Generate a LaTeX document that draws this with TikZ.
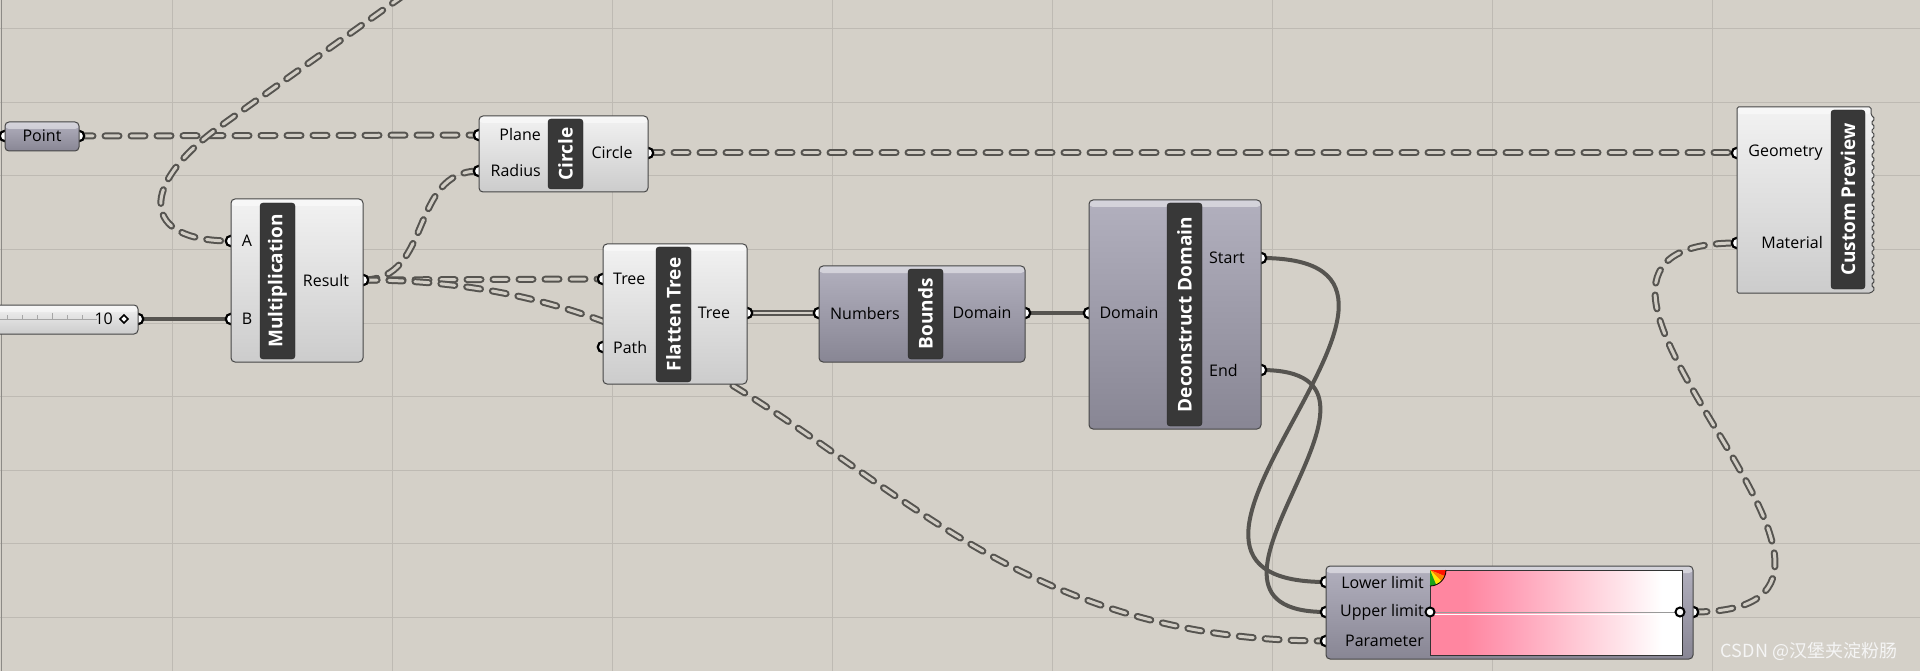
\documentclass[tikz,border=0pt]{standalone}
\usepackage{fontspec}
\setmainfont{Open Sans}
\newfontfamily\cjkfont{Noto Sans CJK SC}

\definecolor{canvas}{RGB}{212,208,200}
\definecolor{gridcol}{RGB}{190,186,179}
\definecolor{edgecol}{RGB}{140,138,134}
\definecolor{wiredk}{RGB}{86,84,80}
\definecolor{wirein}{RGB}{210,206,198}
\definecolor{bodyline}{RGB}{70,70,70}
\definecolor{lighttop}{RGB}{242,242,242}
\definecolor{lightbot}{RGB}{204,204,204}
\definecolor{purptop}{RGB}{178,176,190}
\definecolor{purpbot}{RGB}{136,134,148}
\definecolor{barfill}{RGB}{56,56,56}
\definecolor{pinkA}{RGB}{255,134,160}
\definecolor{pinkB}{RGB}{255,156,180}
\definecolor{pinkC}{RGB}{255,194,208}
\definecolor{pinkD}{RGB}{255,228,234}

\pgfdeclarelayer{canvas}
\pgfdeclarelayer{wires}
\pgfsetlayers{canvas,wires,main}

\pgfdeclarehorizontalshading{pinkfade}{100bp}{color(0bp)=(pinkA); color(25bp)=(pinkA); color(32bp)=(pinkA); color(40bp)=(pinkB); color(52bp)=(pinkC); color(63bp)=(pinkD); color(71bp)=(white); color(100bp)=(white)}

\newcommand{\portfont}{\fontsize{16}{18}\selectfont}
\newcommand{\barfont}{\fontsize{19}{20}\selectfont\bfseries}

\begin{document}
\begin{tikzpicture}[
  x=1pt, y=-1pt,
  gridrule/.style={draw=gridcol, line width=1pt},
  lbody/.style={
    draw=bodyline,
    line width=1pt,
    rounded corners=4pt,
    top color=lighttop,
    bottom color=lightbot,
    inner sep=0pt,
    outer sep=0pt,
    anchor=north west,
    path picture={\fill[white, opacity=.45] (path picture bounding box.north west) rectangle ([yshift=-7pt]path picture bounding box.north east);}
  },
  pbody/.style={lbody, top color=purptop, bottom color=purpbot},
  titlebar/.style={
    draw=black!85,
    fill=barfill,
    rounded corners=3pt,
    rotate=90,
    minimum height=35pt,
    inner sep=0pt,
    text=white,
    font=\barfont
  },
  portlbl/.style={font=\portfont, inner sep=0pt},
  grip/.style={circle, draw=black, fill=white, line width=2.2pt, minimum size=10.5pt, inner sep=0pt},
  listwire/.style={
    draw=wirein, line width=3pt, line cap=round, dash pattern=on 14pt off 12pt,
    preaction={draw=wiredk, line width=7pt, line cap=round, dash pattern=on 14pt off 12pt}
  },
  itemwire/.style={draw=wiredk, line width=4pt},
  treewire/.style={draw=wiredk, line width=1.7pt, double=wirein, double distance=2pt}
]
\useasboundingbox (0,0) rectangle (1920,671);

% canvas and grid
\begin{pgfonlayer}{canvas}
  \fill[canvas] (0,0) rectangle (1920,671);
  \foreach \gx in {172,392,...,1712}
    \draw[gridrule] (\gx,0) -- (\gx,671);
  \foreach \gy in {29,102.5,176,249.5,323,396.5,470,543.5,617}
    \draw[gridrule] (0,\gy) -- (1920,\gy);
  \draw[edgecol, line width=1.5pt] (1.5,0) -- (1.5,671);
\end{pgfonlayer}

% grips
\node[grip] (pt-i) at (5,136) {};
\node[grip] (pt-o) at (79,136) {};
\node[grip] (sld-o) at (138,319) {};
\node[grip] (mult-a) at (231,241) {};
\node[grip] (mult-b) at (231,319) {};
\node[grip] (mult-r) at (363,280) {};
\node[grip] (circ-p) at (479,135) {};
\node[grip] (circ-r) at (479,171) {};
\node[grip] (circ-o) at (648,153) {};
\node[grip] (flat-t) at (603,279) {};
\node[grip] (flat-p) at (603,347) {};
\node[grip] (flat-o) at (747,313) {};
\node[grip] (bnds-i) at (819,313) {};
\node[grip] (bnds-o) at (1025,313) {};
\node[grip] (decon-i) at (1089,313) {};
\node[grip] (decon-s) at (1261,258) {};
\node[grip] (decon-e) at (1261,370) {};
\node[grip] (prev-g) at (1737,153) {};
\node[grip] (prev-m) at (1737,243) {};
\node[grip] (grad-lo) at (1326,582) {};
\node[grip] (grad-up) at (1326,612) {};
\node[grip] (grad-pa) at (1326,641) {};
\node[grip] (grad-o) at (1693,612) {};
\coordinate (mult-src) at (425,-20);

% wires
\begin{pgfonlayer}{wires}
  \clip (0,0) rectangle (1920,671);
  \draw[listwire] (pt-o.center) -- (circ-p.center);
  \draw[listwire] (mult-src) -- (222,125) .. controls (138,185) and (140,241) .. (mult-a.center);
  \draw[itemwire] (sld-o.center) -- (mult-b.center);
  \draw[listwire] (mult-r.center) .. controls +(70,0) and +(-70,0) .. (circ-r.center);
  \draw[listwire] (mult-r.center) -- (flat-t.center);
  \draw[listwire] (mult-r.center) .. controls +(450,0) and +(-450,0) .. (grad-pa.center);
  \draw[listwire] (circ-o.center) -- (prev-g.center);
  \draw[treewire] (flat-o.center) -- (bnds-i.center);
  \draw[itemwire] (bnds-o.center) -- (decon-i.center);
  \draw[itemwire] (decon-s.center) .. controls +(240,0) and +(-240,0) .. (grad-lo.center);
  \draw[itemwire] (decon-e.center) .. controls +(175,0) and +(-175,0) .. (grad-up.center);
  \draw[listwire] (grad-o.center) .. controls +(265,0) and +(-265,0) .. (prev-m.center);
\end{pgfonlayer}

% Point
\node[pbody, minimum width=74pt, minimum height=29pt] (pt) at (5,122) {};
\node[portlbl] (pt-l) at (42,136) {Point};

% slider
\node[lbody, minimum width=146pt, minimum height=29pt] (sld) at (-8,305) {};
\draw[gray!70, line width=.8pt] (0,319) -- (97,319);
\foreach \tx in {7,22,37,67,82}
  \draw[gray!70, line width=.8pt] (\tx,319) -- (\tx,315);
\draw[gray!70, line width=.8pt] (52,319) -- (52,313);
\node[portlbl, anchor=east] (sld-v) at (113,319) {10};
\draw[line width=1.5pt, fill=white] (124,315) -- (128,319) -- (124,323) -- (120,319) -- cycle;

% Multiplication
\node[lbody, minimum width=132pt, minimum height=163pt] (mult) at (231,199) {};
\node[titlebar, minimum width=156pt] (mult-t) at (277.5,281) {Multiplication};
\node[portlbl] (mult-al) at (247,241) {A};
\node[portlbl] (mult-bl) at (247,319) {B};
\node[portlbl] (mult-rl) at (326,280) {Result};

% Circle
\node[lbody, minimum width=169pt, minimum height=76pt] (circ) at (479,116) {};
\node[titlebar, minimum width=70pt] (circ-t) at (565.5,154) {Circle};
\node[portlbl, anchor=east] (circ-pl) at (541,135) {Plane};
\node[portlbl, anchor=east] (circ-rl) at (541,171) {Radius};
\node[portlbl] (circ-ol) at (612,153) {Circle};

% Flatten Tree
\node[lbody, minimum width=144pt, minimum height=140pt] (flat) at (603,244) {};
\node[titlebar, minimum width=135pt] (flat-t) at (673.5,314.5) {Flatten Tree};
\node[portlbl, anchor=west] (flat-tl) at (613,279) {Tree};
\node[portlbl, anchor=west] (flat-pl) at (613,347) {Path};
\node[portlbl] (flat-ol) at (714,313) {Tree};

% Bounds
\node[pbody, minimum width=206pt, minimum height=96pt] (bnds) at (819,266) {};
\node[titlebar, minimum width=90pt] (bnds-t) at (925.5,314) {Bounds};
\node[portlbl] (bnds-il) at (865,313) {Numbers};
\node[portlbl] (bnds-ol) at (982,313) {Domain};

% Deconstruct Domain
\node[pbody, minimum width=172pt, minimum height=229pt] (decon) at (1089,200) {};
\node[titlebar, minimum width=223pt] (decon-t) at (1184.5,314.5) {Deconstruct Domain};
\node[portlbl] (decon-il) at (1129,313) {Domain};
\node[portlbl, anchor=west] (decon-sl) at (1209,258) {Start};
\node[portlbl, anchor=west] (decon-el) at (1209,370) {End};

% Custom Preview
\shade[top color=lighttop, bottom color=lightbot, draw=bodyline, line width=1pt, rounded corners=1.5pt]
  (1871,107) -- (1737,107) -- (1737,293) -- (1871,293)
  \foreach \k in {1,...,22} { -- (1875,293-8.1*\k+4.05) -- (1871,293-8.1*\k) } -- cycle;
\fill[white, opacity=.45, rounded corners=1.5pt] (1738,108) rectangle (1870,114);
\node[titlebar, minimum width=179pt, minimum height=34pt] (prev-t) at (1848,199.5) {Custom Preview};
\node[portlbl, anchor=east] (prev-gl) at (1823,153) {Geometry};
\node[portlbl, anchor=east] (prev-ml) at (1823,243) {Material};

% Gradient
\node[pbody, minimum width=367pt, minimum height=93pt] (grad) at (1326,566) {};
\shade[shading=pinkfade] (1430,570) rectangle (1682,655);
\draw[black!80, line width=1pt] (1430,570) rectangle (1682,655);
\draw[gray!80, line width=.8pt] (1430,612) -- (1682,612);
\draw[white, line width=.8pt] (1430,614) -- (1682,614);
\fill[red!85!orange] (1430,570) -- ++(0:16) arc[start angle=0, end angle=22.5, radius=16] -- cycle;
\fill[orange] (1430,570) -- ++(22.5:16) arc[start angle=22.5, end angle=45, radius=16] -- cycle;
\fill[yellow!90!orange] (1430,570) -- ++(45:16) arc[start angle=45, end angle=67.5, radius=16] -- cycle;
\fill[green!60!black!90] (1430,570) -- ++(67.5:16) arc[start angle=67.5, end angle=90, radius=16] -- cycle;
\draw[black, line width=.8pt] (1446,570) arc[start angle=0, end angle=90, radius=16];
\node[grip, minimum size=9pt, line width=2pt] (grad-k1) at (1430,612) {};
\node[grip, minimum size=9pt, line width=2pt] (grad-k2) at (1680,612) {};
\node[portlbl, anchor=east] (grad-lol) at (1424,582) {Lower limit};
\node[portlbl, anchor=east] (grad-upl) at (1424,612) {Upper limit};
\node[portlbl, anchor=east] (grad-pal) at (1424,641) {Parameter};

% watermark
\node[font=\cjkfont\fontsize{18}{20}\selectfont, text=white!92!gray, inner sep=0pt] (wm) at (1809,651) {CSDN @汉堡夹淀粉肠};
\end{tikzpicture}
\end{document}
